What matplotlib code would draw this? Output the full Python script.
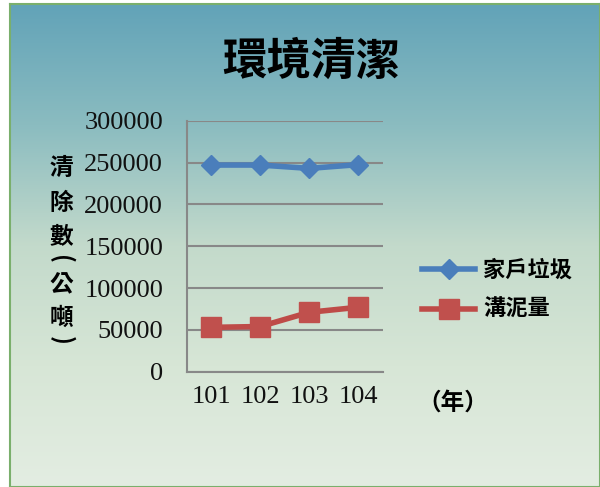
import matplotlib
matplotlib.use("Agg")
import matplotlib.pyplot as plt
import numpy as np
from matplotlib.colors import LinearSegmentedColormap

years = ["101", "102", "103", "104"]
household = [247000, 247000, 243000, 247500]
sludge = [53000, 54000, 71000, 77000]
series_names = ["家戶垃圾", "溝泥量"]
title = "環境清潔"
ylabel = "清除數(公噸)"
xlabel = "（年）"

cjk = ["Noto Sans CJK TC", "DejaVu Sans"]
serif = "Liberation Serif"

fig = plt.figure(figsize=(6, 4.87), dpi=100)

# gradient background panel with a thin green frame
bg = fig.add_axes([9.5 / 600, 0, 1 - 9.5 / 600, 1 - 4 / 487], zorder=-5)
cmap = LinearSegmentedColormap.from_list(
    "bg", ["#62a3b8", "#8bbcc0", "#c3dacb", "#d7e6d6", "#e3ede2"])
grad = np.linspace(0, 1, 256).reshape(-1, 1)
bg.imshow(grad, aspect="auto", cmap=cmap, extent=[0, 1, 0, 1])
bg.set_xticks([])
bg.set_yticks([])
for s in bg.spines.values():
    s.set_color("#7aaf6c")
    s.set_linewidth(1.5)

ax = fig.add_axes([186.7 / 600, 1 - 371.7 / 487, 196 / 600, 251 / 487])
ax.patch.set_alpha(0)
x = np.arange(len(years)) + 0.5
ax.plot(x, household, color="#4a7ebb", lw=4, marker="D", ms=10.5,
        mfc="#4a7ebb", mec="#4a7ebb", label=series_names[0], clip_on=False)
ax.plot(x, sludge, color="#be4b48", lw=4, marker="s", ms=14,
        mfc="#c0504d", mec="#c0504d", label=series_names[1], clip_on=False)

ax.set_xlim(0, 4)
ax.set_ylim(0, 300000)
ax.set_yticks(np.arange(0, 300001, 50000))
ax.set_xticks(x)
ax.set_xticklabels(years)
ax.yaxis.grid(True, color="#888888", lw=1.5)
ax.set_axisbelow(True)
for side in ["top", "right"]:
    ax.spines[side].set_visible(False)
for side in ["left", "bottom"]:
    ax.spines[side].set_color("#888888")
    ax.spines[side].set_linewidth(1.5)
ax.tick_params(length=0)
ax.tick_params(axis="y", pad=17)
ax.tick_params(axis="x", pad=10)
for lab in ax.get_yticklabels() + ax.get_xticklabels():
    lab.set_fontfamily(serif)
    lab.set_fontsize(19)
    lab.set_color("#111111")

fig.text(311 / 600, 1 - 62 / 487, title, family=cjk, weight="bold",
         fontsize=32, ha="center", va="center")

# vertical (stacked) y label, brackets turned sideways
ypos = [168, 203, 237, 259, 285, 318, 340]
for ch, yy in zip(ylabel, ypos):
    rot = -90 if ch in "()" else 0
    fig.text(61 / 600, 1 - yy / 487, ch, family=cjk, weight="bold",
             fontsize=17, ha="center", va="center", rotation=rot,
             rotation_mode="anchor")

fig.text(453 / 600, 1 - 403 / 487, xlabel, family=cjk, weight="bold",
         fontsize=17, ha="center", va="center")

leg = fig.legend(loc="center left", bbox_to_anchor=(402 / 600, 1 - 290 / 487),
                 frameon=False, handlelength=2.4, handletextpad=0.35,
                 labelspacing=0.75, prop={"family": cjk, "weight": "bold", "size": 16})

fig.savefig("out.png", dpi=100)
